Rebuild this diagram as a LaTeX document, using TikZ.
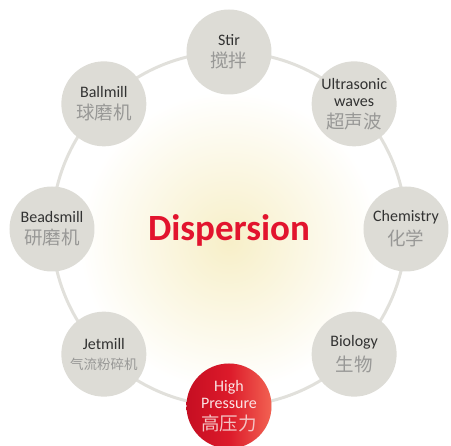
\documentclass[tikz,border=0pt]{standalone}
\usepackage{fontspec}
\setmainfont{Carlito}
\newfontfamily\cjk{Noto Sans CJK SC}

\definecolor{topicgray}{RGB}{221,220,214}
\definecolor{ringgray}{RGB}{225,224,219}
\definecolor{entext}{RGB}{50,50,50}
\definecolor{cntext}{RGB}{152,152,150}
\definecolor{dispred}{RGB}{226,20,46}
\definecolor{hpdark}{RGB}{198,14,34}
\definecolor{hpmid}{RGB}{220,26,42}
\definecolor{hplight}{RGB}{242,98,82}
\definecolor{hptext}{RGB}{250,228,228}
\definecolor{hpcn}{RGB}{244,196,196}
\definecolor{glowyellow}{RGB}{247,239,200}

% Chinese subtitle inside a bubble
\newcommand{\zh}[2][18.5]{{\cjk\color{cntext}\fontsize{#1}{#1}\selectfont #2}}

\tikzset{
  topic/.style={circle, fill=topicgray, minimum size=85, inner sep=0,
    align=center, text=entext, font=\fontsize{16}{17}\selectfont},
  ring/.style={draw=ringgray, line width=3},
}

\begin{document}
\begin{tikzpicture}[x=1pt,y=1pt]

    % Overall frame, centre of the ring at the origin
    \useasboundingbox (-229,-217) rectangle (222,229);
    \def\R{177}   % radius of the ring carrying the bubbles

    % Soft yellow glow behind the title
    \coordinate (glow) at (0,-12);
    \shade[inner color=glowyellow, outer color=white] (glow) circle (150);

    % Ring joining the bubbles
    \coordinate (mid) at (0,0);
    \draw[ring] (mid) circle (\R);

    % Bubbles round the ring
    \node[topic] (stir)  at (90:\R)   {Stir\\[5pt]\zh{搅拌}};
    \node[topic] (ultra) at (45:\R)   {Ultrasonic\\waves\\[5pt]\zh{超声波}};
    \node[topic] (chem)  at (0:\R)    {Chemistry\\[5pt]\zh{化学}};
    \node[topic] (bio)   at (-45:\R)  {Biology\\[5pt]\zh{生物}};
    \node[topic] (jet)   at (-135:\R) {Jetmill\\[3pt]\zh[13.5]{气流粉碎机}};
    \node[topic] (bead)  at (180:\R)  {Beadsmill\\[5pt]\zh{研磨机}};
    \node[topic] (ball)  at (135:\R)  {Ballmill\\[5pt]\zh{球磨机}};

    % Highlighted bubble
    \node[topic, left color=hpdark, right color=hplight, middle color=hpmid,
      text=hptext] (hp) at (-90:\R)
      {High\\Pressure\\[5pt]{\cjk\color{hpcn}\fontsize{18.5}{18.5}\selectfont 高压力}};

    % Title
    \node[text=dispred, font=\bfseries\fontsize{37}{40}\selectfont]
      (title) at (0,-1) {Dispersion};

\end{tikzpicture}
\end{document}
